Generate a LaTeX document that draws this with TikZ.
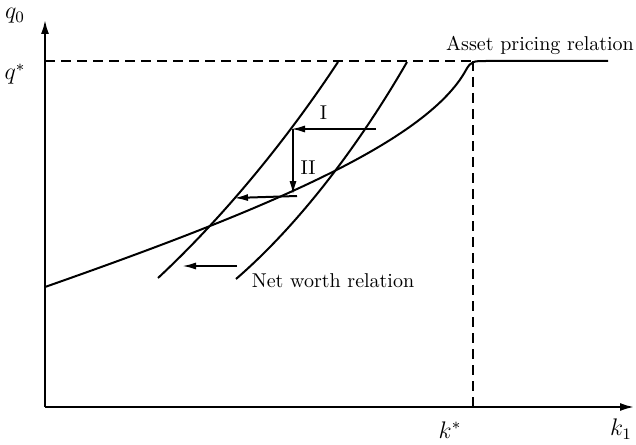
\documentclass[tikz,border=0pt]{standalone}
\usepackage{amsmath}
\usepackage{tikz}
\usetikzlibrary{arrows.meta, calc}

\begin{document}
\begin{tikzpicture}[x=0.5pt, y=-0.5pt, line width=1pt]

\tikzset{
  axis/.style={-{Latex[length=7pt, width=4pt]}},
  move/.style={-{Latex[length=7pt, width=3.5pt]}},
  guide/.style={dash pattern=on 5pt off 3pt},
  axlabel/.style={font=\large},
}

\useasboundingbox (0,0) rectangle (636,444);

% Axes
\coordinate (O)    at (45,407);
\coordinate (ytop) at (45,20);
\coordinate (xend) at (634,407);
\draw[axis] (O) -- (ytop);
\draw[axis] (O) -- (xend);

\node[axlabel] (q0) at (15,16) {$q_0$};
\node[axlabel] (k1) at (621,429) {$k_1$};

% Steady state
\coordinate (qs) at (45,61);
\coordinate (ks) at (473,407);
\coordinate (ss) at (473,61);
\node[axlabel] (qlab) at (15,74) {$q^*$};
\node[axlabel] (klab) at (450,430) {$k^*$};
\draw[guide] (qs) -- (ss);
\draw[guide] (ss) -- (ks);

% Asset pricing relation
\draw (45,287) .. controls (250,215) and (425,145) .. (466,70)
  .. controls (471,60.9) and (474,61) .. (486,61) -- (608,61);
\node (apr) at (540,45) {Asset pricing relation};

% Net worth relation
\draw (158,278) .. controls (215,225) and (280,150) .. (338,62);
\draw (236,279) .. controls (295,228) and (355,152) .. (407,62);
\node (nwr) at (333,281) {Net worth relation};

% Dynamics
\coordinate (a) at (376,129);
\coordinate (b) at (291,129);
\coordinate (c) at (293,195);
\coordinate (d) at (297,196);
\coordinate (e) at (234,198);
\draw[move] (a) -- node[above, yshift=1pt, xshift=-5pt] {I} (b);
\draw[move] ($(b)+(2,0)$) -- node[right, yshift=-3pt] {II} (c);
\draw[move] (d) -- (e);

\coordinate (sa) at (237,266);
\coordinate (sb) at (182,266);
\draw[move] (sa) -- (sb);

\end{tikzpicture}
\end{document}
